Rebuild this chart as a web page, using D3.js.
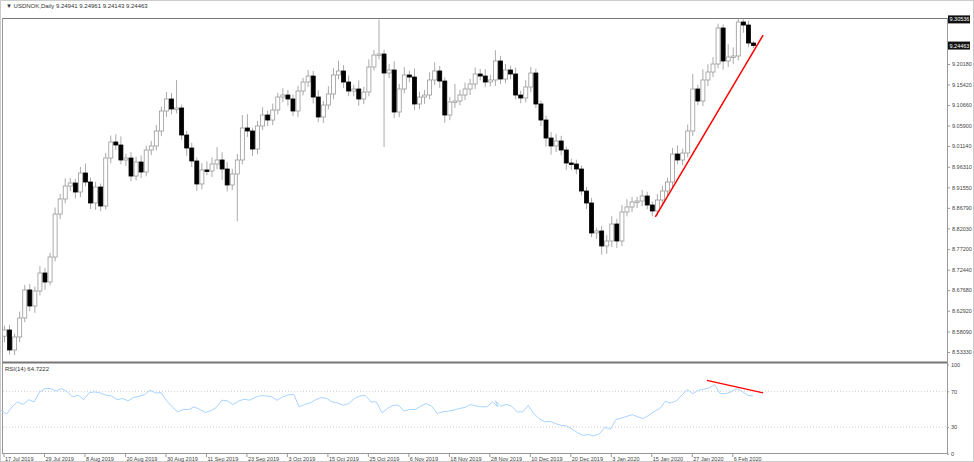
<!DOCTYPE html>
<html>
<head>
<meta charset="utf-8">
<script src="https://cdn.jsdelivr.net/npm/d3@7/dist/d3.min.js"></script>
<style>
  body { margin: 0; background: #fff; font-family: "Liberation Sans", sans-serif; }
  svg text { font-size: 7px; }
</style>
</head>
<body>
<script>
// Dati: chiusure giornaliere USDNOK (17 Jul 2019 - 12 Feb 2020)
const closes = [
  8.5844, 8.5380, 8.5682, 8.6123, 8.6773, 8.6401, 8.6749, 8.7167, 8.6958, 8.7538,
  8.8536, 8.8885, 8.9186, 8.9256, 8.9047, 8.9488, 8.9279, 8.8792, 8.9163, 8.8722,
  8.9836, 9.0208, 9.0138, 8.9790, 8.9836, 8.9418, 8.9743, 8.9511, 9.0022, 9.0115,
  9.0463, 9.0927, 9.1206, 9.0974, 9.0997, 9.0370, 9.0068, 8.9767, 8.9233, 8.9558,
  8.9535, 8.9697, 8.9790, 8.9581, 8.9210, 8.9465, 8.9790, 9.0533, 9.0463, 9.0045,
  9.0579, 9.0834, 9.0718, 9.0950, 9.1252, 9.1298, 9.1206, 9.0927, 9.1391, 9.1600,
  9.1739, 9.1252, 9.0788, 9.1066, 9.1322, 9.1763, 9.1856, 9.1600, 9.1391, 9.1438,
  9.1206, 9.1368, 9.1948, 9.2227, 9.2250, 9.1809, 9.1879, 9.0904, 9.1438, 9.1763,
  9.1716, 9.1090, 9.1252, 9.1298, 9.1647, 9.1856, 9.1623, 9.0834, 9.1136, 9.1159,
  9.1298, 9.1438, 9.1554, 9.1786, 9.1739, 9.1600, 9.1647, 9.2088, 9.1670, 9.1879,
  9.1786, 9.1298, 9.1229, 9.1484, 9.1809, 9.1090, 9.0718, 9.0300, 9.0115, 9.0231,
  9.0022, 8.9720, 8.9697, 8.9581, 8.9070, 8.8792, 8.8096, 8.8142, 8.7794, 8.7910,
  8.8304, 8.7910, 8.8583, 8.8699, 8.8815, 8.8838, 8.8954, 8.8745, 8.8606, 8.8861,
  8.9070, 8.9279, 8.9929, 8.9790, 8.9952, 9.0463, 9.1438, 9.1159, 9.1647, 9.1832,
  9.2018, 9.2854, 9.2088, 9.2180, 9.2204, 9.2993, 9.2923, 9.2505, 9.2446
];
const firstOpen = 8.5700;

// Ombre superiori e inferiori (in prezzo)
const upperWick = [
  0.010, 0.012, 0.008, 0.015, 0.012, 0.014, 0.010, 0.016, 0.012, 0.010,
  0.015, 0.012, 0.018, 0.012, 0.010, 0.014, 0.022, 0.010, 0.012, 0.008,
  0.012, 0.015, 0.018, 0.020, 0.010, 0.014, 0.012, 0.015, 0.010, 0.012,
  0.014, 0.010, 0.016, 0.014, 0.065, 0.008, 0.010, 0.012, 0.008, 0.016,
  0.020, 0.015, 0.030, 0.018, 0.016, 0.012, 0.014, 0.030, 0.032, 0.008,
  0.012, 0.018, 0.010, 0.015, 0.010, 0.016, 0.012, 0.010, 0.012, 0.010,
  0.014, 0.012, 0.016, 0.010, 0.018, 0.016, 0.024, 0.014, 0.015, 0.010,
  0.020, 0.012, 0.018, 0.012, 0.080, 0.010, 0.014, 0.020, 0.012, 0.018,
  0.010, 0.020, 0.012, 0.012, 0.018, 0.020, 0.012, 0.008, 0.012, 0.040,
  0.012, 0.015, 0.012, 0.015, 0.012, 0.016, 0.012, 0.025, 0.012, 0.014,
  0.010, 0.015, 0.010, 0.016, 0.014, 0.010, 0.008, 0.010, 0.014, 0.016,
  0.012, 0.008, 0.010, 0.010, 0.008, 0.010, 0.012, 0.008, 0.012, 0.014,
  0.018, 0.012, 0.016, 0.018, 0.012, 0.010, 0.014, 0.010, 0.008, 0.014,
  0.012, 0.010, 0.014, 0.020, 0.010, 0.015, 0.035, 0.010, 0.025, 0.018,
  0.016, 0.010, 0.008, 0.030, 0.020, 0.008, 0.006, 0.010, 0.004
];
const lowerWick = [
  0.014, 0.010, 0.012, 0.012, 0.010, 0.012, 0.016, 0.010, 0.018, 0.008,
  0.010, 0.012, 0.010, 0.012, 0.015, 0.012, 0.010, 0.014, 0.016, 0.012,
  0.008, 0.012, 0.012, 0.010, 0.014, 0.012, 0.010, 0.014, 0.010, 0.012,
  0.010, 0.012, 0.014, 0.012, 0.010, 0.012, 0.018, 0.014, 0.016, 0.012,
  0.010, 0.014, 0.012, 0.025, 0.015, 0.012, 0.110, 0.010, 0.014, 0.016,
  0.012, 0.010, 0.014, 0.012, 0.010, 0.012, 0.016, 0.012, 0.014, 0.010,
  0.012, 0.015, 0.012, 0.014, 0.010, 0.012, 0.010, 0.014, 0.012, 0.012,
  0.016, 0.012, 0.010, 0.008, 0.010, 0.172, 0.012, 0.014, 0.012, 0.010,
  0.012, 0.014, 0.012, 0.016, 0.010, 0.012, 0.016, 0.018, 0.012, 0.014,
  0.010, 0.012, 0.014, 0.012, 0.010, 0.012, 0.010, 0.014, 0.012, 0.010,
  0.012, 0.010, 0.012, 0.010, 0.012, 0.010, 0.014, 0.020, 0.020, 0.014,
  0.012, 0.016, 0.014, 0.012, 0.010, 0.014, 0.010, 0.014, 0.020, 0.018,
  0.014, 0.016, 0.012, 0.010, 0.012, 0.014, 0.012, 0.010, 0.012, 0.010,
  0.014, 0.010, 0.012, 0.010, 0.012, 0.010, 0.012, 0.010, 0.012, 0.014,
  0.012, 0.010, 0.020, 0.014, 0.016, 0.010, 0.018, 0.010, 0.006
];

// RSI(14), in due tratti
const rsiA = [
  48.9, 44.4, 52.6, 58.1, 55.2, 60.7, 58.1, 69.3, 73.0, 73.0, 70.4, 73.0, 69.3, 63.7, 65.6,
  60.7, 68.5, 69.3, 68.1, 65.6, 64.8, 60.7, 61.9, 59.3, 63.0, 64.4, 66.3, 71.1, 68.1, 68.5,
  59.3, 52.6, 47.0, 49.6, 49.6, 52.6, 49.6, 46.3, 48.1, 51.9, 60.0, 59.3, 55.2, 58.9, 61.1,
  60.0, 63.0, 65.2, 64.8, 63.7, 60.0, 63.7, 65.9, 66.7, 52.6, 55.2, 57.0, 60.7, 63.0, 61.9,
  58.1, 57.0, 54.4, 56.3, 61.9, 64.8, 65.2, 58.1, 58.1, 45.9, 50.7, 54.4, 54.4, 47.8, 49.6,
  49.6, 53.3, 56.3, 53.3, 45.2, 47.0, 47.8, 48.9, 50.7, 51.9, 55.2, 53.7, 52.6, 52.6, 58.1,
  52.6
];
const rsiB = [
  55.1, 59.2, 53.2, 55.4, 53.2, 46.9, 46.9, 54.3, 45.0, 39.4, 35.7, 36.4, 33.8, 31.9, 31.2,
  27.5, 23.7, 20.7, 21.5, 20.0, 22.6, 29.7, 27.5, 38.3, 40.1, 42.0, 43.9, 41.3, 39.4, 43.1,
  47.6, 50.6, 58.8, 56.9, 59.2, 65.5, 71.9, 67.4, 71.1, 72.2, 73.7, 77.5, 67.4, 67.4, 69.3,
  73.0, 70.0, 65.5, 64.7
];

// Linee di tendenza disegnate a mano (indice candela, valore)
const priceTrend = [[128.7, 8.8467], [150.0, 9.2690]];
const rsiTrend = [[138.9, 82.3], [150.0, 68.1]];

const priceTicks = [9.20180, 9.15420, 9.10660, 9.05900, 9.01140, 8.96310, 8.91550, 8.86790,
  8.82030, 8.77200, 8.72440, 8.67680, 8.62920, 8.58090, 8.53330];
const rsiTicks = [100, 70, 30, 0];
const header = "USDNOK,Daily  9.24941 9.24961 9.24143 9.24463";
const rsiLabel = "RSI(14) 64.7222";
const lastPrice = 9.24463;
const topPrice = 9.30536;

// Date di trading (giorni feriali, senza 25 dic e 1 gen)
const dates = [];
for (let d = new Date(2019, 6, 17); dates.length < closes.length; d.setDate(d.getDate() + 1)) {
  const wd = d.getDay();
  const md = d.getMonth() * 100 + d.getDate();
  if (wd === 0 || wd === 6 || md === 1125 || md === 1) continue;
  dates.push(new Date(d));
}
const fmt = d3.timeFormat("%-d %b %Y");

const candles = closes.map((c, i) => {
  const o = i === 0 ? firstOpen : closes[i - 1];
  return { i, o, c, h: Math.max(o, c) + upperWick[i], l: Math.min(o, c) - lowerWick[i] };
});

const W = 974, H = 462;
const svg = d3.select("body").append("svg").attr("width", W).attr("height", H);

const axisX = 947;
const x = d3.scaleLinear().domain([0, 148]).range([4, 753]);
const y = d3.scaleLinear().domain([8.5101, 9.3086]).range([362, 18]);
const yr = d3.scaleLinear().domain([0, 100]).range([453.8, 364.5]);

// Cornici
svg.append("rect").attr("x", 0.5).attr("y", 0.5).attr("width", W - 1).attr("height", H - 1)
  .attr("fill", "none").attr("stroke", "#ccc");
svg.append("line").attr("x1", 2).attr("x2", axisX).attr("y1", 18.5).attr("y2", 18.5).attr("stroke", "#777");
svg.append("line").attr("x1", 2).attr("x2", axisX).attr("y1", 362.5).attr("y2", 362.5).attr("stroke", "#777").attr("stroke-width", 2);
svg.append("line").attr("x1", 2).attr("x2", axisX).attr("y1", 453.5).attr("y2", 453.5).attr("stroke", "#999");
svg.append("line").attr("x1", 2.5).attr("x2", 2.5).attr("y1", 18).attr("y2", 454).attr("stroke", "#999");
svg.append("line").attr("x1", axisX + 0.5).attr("x2", axisX + 0.5).attr("y1", 18).attr("y2", 454).attr("stroke", "#999");

svg.append("text").attr("x", 6).attr("y", 8).text("▼ " + header).style("font-size", "6px").style("fill", "#333");
svg.append("text").attr("x", 5).attr("y", 371).text(rsiLabel).style("font-size", "6px").style("fill", "#333");

// Asse dei prezzi
const yAxis = svg.append("g").attr("transform", `translate(${axisX},0)`)
  .call(d3.axisRight(y).tickValues(priceTicks).tickFormat(d3.format(".5f")).tickSize(3).tickPadding(2));
yAxis.select(".domain").remove();
yAxis.selectAll("line").attr("stroke", "#999");
yAxis.selectAll("text").style("font-size", "5.5px").style("fill", "#444");

[topPrice, lastPrice].forEach((p) => {
  const g = svg.append("g").attr("transform", `translate(${axisX + 1},${y(p)})`);
  g.append("rect").attr("x", 0).attr("y", -4).attr("width", 22).attr("height", 8).attr("fill", "#111");
  g.append("text").attr("x", 1.5).attr("y", 2).text(d3.format(".5f")(p)).style("font-size", "5.5px").style("fill", "#fff");
});

// Asse RSI
const rAxis = svg.append("g").attr("transform", `translate(${axisX},0)`)
  .call(d3.axisRight(yr).tickValues(rsiTicks).tickSize(2).tickPadding(2));
rAxis.select(".domain").remove();
rAxis.selectAll("line").attr("stroke", "#999");
rAxis.selectAll("text").style("font-size", "5.5px").style("fill", "#444");

[70, 30].forEach((v) => {
  svg.append("line").attr("x1", 3).attr("x2", axisX).attr("y1", yr(v)).attr("y2", yr(v))
    .attr("stroke", "#ccc").attr("stroke-dasharray", "1,2");
});

// Asse delle date
const tickIdx = d3.range(0, closes.length, 8);
const xAxis = svg.append("g").attr("transform", "translate(0,454)");
tickIdx.forEach((i) => {
  xAxis.append("line").attr("x1", x(i)).attr("x2", x(i)).attr("y1", 0).attr("y2", 3).attr("stroke", "#999");
  xAxis.append("text").attr("x", x(i) + 1).attr("y", 7).text(fmt(dates[i])).style("font-size", "5.5px").style("fill", "#444");
});

// Candele
const cg = svg.append("g");
cg.selectAll("line.wick").data(candles).enter().append("line")
  .attr("x1", (d) => x(d.i) + 0.5).attr("x2", (d) => x(d.i) + 0.5)
  .attr("y1", (d) => y(d.h)).attr("y2", (d) => y(d.l))
  .attr("stroke", "#aaa").attr("stroke-width", 1);
cg.selectAll("rect.body").data(candles).enter().append("rect")
  .attr("x", (d) => x(d.i) - 1.5).attr("width", 4)
  .attr("y", (d) => y(Math.max(d.o, d.c)))
  .attr("height", (d) => Math.max(1.5, Math.abs(y(d.o) - y(d.c))))
  .attr("fill", (d) => (d.c >= d.o ? "#fff" : "#000"))
  .attr("stroke", (d) => (d.c >= d.o ? "#999" : "#000"))
  .attr("stroke-width", 0.8);

// Linea RSI
const xa = d3.scaleLinear().domain([0, rsiA.length - 1]).range([x(0) - 3, x(97.6)]);
const xb = d3.scaleLinear().domain([0, rsiB.length - 1]).range([x(96), x(148)]);
const rsiPts = rsiA.map((v, i) => [xa(i), yr(v)]).concat(rsiB.slice(1).map((v, i) => [xb(i + 1), yr(v)]));
svg.append("path").attr("d", d3.line()(rsiPts)).attr("fill", "none").attr("stroke", "#a8d4ff").attr("stroke-width", 1);

// Linee rosse
svg.append("line").attr("x1", x(priceTrend[0][0])).attr("y1", y(priceTrend[0][1]))
  .attr("x2", x(priceTrend[1][0])).attr("y2", y(priceTrend[1][1])).attr("stroke", "red").attr("stroke-width", 1.5);
svg.append("line").attr("x1", x(rsiTrend[0][0])).attr("y1", yr(rsiTrend[0][1]))
  .attr("x2", x(rsiTrend[1][0])).attr("y2", yr(rsiTrend[1][1])).attr("stroke", "red").attr("stroke-width", 1.3);
</script>
</body>
</html>
